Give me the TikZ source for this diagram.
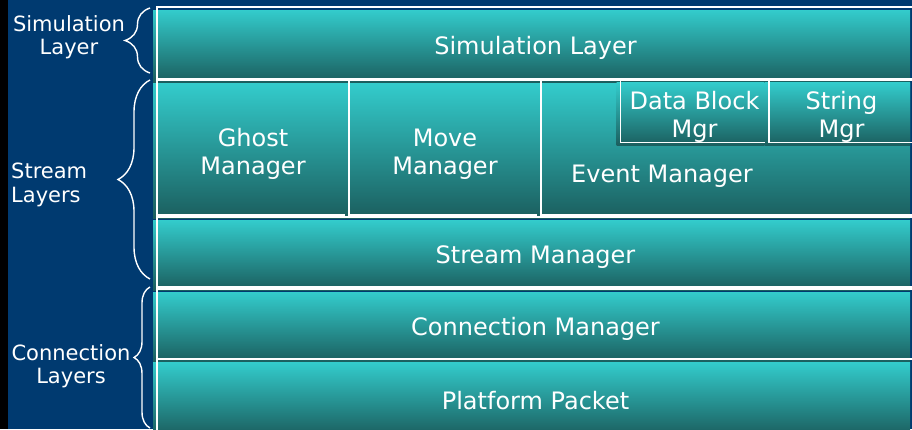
\documentclass[tikz,border=0pt]{standalone}
\usepackage{fontspec}
\setmainfont{DejaVu Sans}
\usepackage{xcolor}
\usetikzlibrary{decorations.pathreplacing}

\definecolor{bgblue}{HTML}{003A70}
\definecolor{tealtop}{HTML}{33CCCC}
\definecolor{tealmid}{HTML}{2EB8B8}
\definecolor{tealbot}{HTML}{1B5E5E}

\begin{document}
\begin{tikzpicture}[
  x=1pt, y=-1pt,
  layer/.style={rectangle, draw=white, line width=1.4pt, inner sep=0pt,
                align=center, text=white, text height=28pt,
                font=\fontsize{24}{28}\selectfont,
                preaction={transform canvas={shift={(-4pt,-3pt)}},
                           top color=tealtop, middle color=tealmid,
                           bottom color=tealbot, draw=none}},
  twoline/.style={layer, text height=58pt},
  side/.style={text=white, inner sep=0pt,
               font=\fontsize{21}{23.5}\selectfont},
  brace/.style={draw=white, line width=1.4pt,
                decorate, decoration={brace, amplitude=#1}}
]
\useasboundingbox (0,0) rectangle (912,429);
\clip (0,0) rectangle (912,429);
\fill[bgblue] (0,0) rectangle (912,429);
\fill[black] (0,0) rectangle (8,429);

% --- Layers ---
\node[layer, minimum width=757pt, minimum height=72pt] (sim) at (535.5,43) {Simulation Layer};
\node[twoline, minimum width=192pt, minimum height=135pt] (ghost) at (253,147.5) {Ghost\\Manager};
\node[twoline, minimum width=192pt, minimum height=135pt] (move) at (445,147.5) {Move\\Manager};
\node[layer, minimum width=373pt, minimum height=135pt] (event) at (727.5,147.5) {};
\node[text=white, inner sep=0pt, font=\fontsize{24}{28}\selectfont] (eventlbl) at (662,176) {Event Manager};
\node[twoline, minimum width=148pt, minimum height=62pt] (dblock) at (694.5,111) {Data Block\\Mgr};
\node[twoline, minimum width=145pt, minimum height=62pt] (string) at (841.5,111) {String\\Mgr};
\node[layer, minimum width=757pt, minimum height=70pt] (stream) at (535.5,252) {Stream Manager};
\node[layer, minimum width=757pt, minimum height=70pt] (conn) at (535.5,324) {Connection Manager};
\node[layer, minimum width=757pt, minimum height=74pt] (packet) at (535.5,396) {Platform Packet};

% --- Braces and side labels ---
\coordinate (simtop) at (150,8);
\coordinate (simbot) at (150,73);
\coordinate (strtop) at (150,80);
\coordinate (strbot) at (150,279);
\coordinate (contop) at (150,287);
\coordinate (conbot) at (150,428);
\draw[brace=25pt] (simbot) -- (simtop);
\draw[brace=32pt] (strbot) -- (strtop);
\draw[brace=16pt] (conbot) -- (contop);

\node[side, align=center] (simlbl) at (69,37) {Simulation\\Layer};
\node[side, align=left, anchor=west] (strlbl) at (11,185) {Stream\\Layers};
\node[side, align=center] (conlbl) at (71,366) {Connection\\Layers};
\end{tikzpicture}
\end{document}
